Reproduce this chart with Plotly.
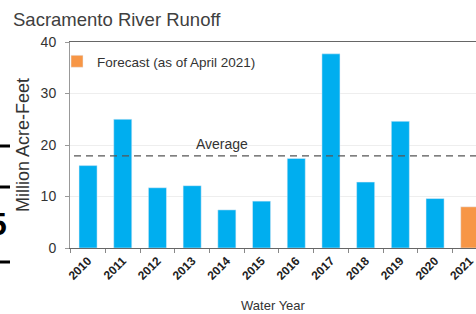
import plotly.graph_objects as go

# ---- data ----
years = ["2010", "2011", "2012", "2013", "2014", "2015", "2016", "2017", "2018", "2019", "2020"]
runoff = [16.0, 25.0, 11.7, 12.1, 7.4, 9.1, 17.4, 37.7, 12.8, 24.6, 9.6]
forecast_year = ["2021"]
forecast_runoff = [8.0]
average = 17.9
y_ticks = [0, 10, 20, 30, 40]

W, H = 476, 314
L, R, T, B = 70, 0, 42, 66
pw, ph = W - L - R, H - T - B

def px_x(p):
    return (p - L) / pw

def px_y(p):
    return (H - B - p) / ph

BLUE = "#00AEEF"
ORANGE = "#F79646"
FONT = "Liberation Sans, Arial, sans-serif"

fig = go.Figure()
fig.add_trace(go.Bar(x=years, y=runoff, marker_color=BLUE, width=0.52,
                     showlegend=False, name="Observed"))
fig.add_trace(go.Bar(x=forecast_year, y=forecast_runoff, marker_color=ORANGE, width=0.52,
                     showlegend=True, name="Forecast (as of April 2021)"))

all_years = years + forecast_year

fig.add_shape(type="line", xref="paper", yref="y", x0=px_x(74), x1=1, y0=average, y1=average,
              line=dict(color="#555555", width=1.3, dash="7px,5px"), layer="above")
fig.add_annotation(x=3.86, y=average, xref="x", yref="y", text="Average", showarrow=False,
                   yshift=12, font=dict(family=FONT, size=14, color="#333333"))

# title
fig.add_annotation(xref="paper", yref="paper", x=px_x(11), y=px_y(19), xanchor="left",
                   yanchor="middle", text="Sacramento River Runoff", showarrow=False,
                   font=dict(family=FONT, size=18.5, color="#404040"))

# edge artifacts from neighbouring panel
for yy in [146, 187, 262]:
    fig.add_shape(type="line", xref="paper", yref="paper", x0=px_x(0), x1=px_x(10),
                  y0=px_y(yy), y1=px_y(yy), line=dict(color="black", width=3))
fig.add_annotation(xref="paper", yref="paper", x=px_x(9), y=px_y(224), xanchor="right",
                   yanchor="middle", text="<b>5</b>", showarrow=False,
                   font=dict(family=FONT, size=32, color="black"))

fig.update_layout(
    width=W, height=H,
    margin=dict(l=L, r=R, t=T, b=B, pad=0),
    paper_bgcolor="white", plot_bgcolor="white",
    barmode="overlay",
    font=dict(family=FONT, color="#333333"),
    legend=dict(x=px_x(57), y=px_y(46), xanchor="left", yanchor="top",
                bgcolor="rgba(0,0,0,0)", font=dict(size=13.5, color="#333333"),
                itemwidth=30),
    xaxis=dict(type="category", categoryorder="array", categoryarray=all_years,
               range=[-0.52, 11.18], tickangle=-45, showline=True, linecolor="#666666",
               linewidth=1.2, mirror=True, ticks="outside", ticklen=4, tickcolor="#888888",
               tickson="boundaries",
               tickfont=dict(family=FONT, size=12, color="#222222", weight="bold"),
               title=dict(text="Water Year", font=dict(size=13, color="#333333"), standoff=19)),
    yaxis=dict(range=[0, 40], tickvals=y_ticks, showgrid=True, gridcolor="#EEEEEE",
               zeroline=False, showline=True, linecolor="#999999", linewidth=1,
               ticks="outside", ticklen=4, tickcolor="#999999",
               tickfont=dict(size=14, color="#333333"), ticklabelstandoff=6,
               title=dict(text="Million Acre-Feet", font=dict(size=18, color="#333333"),
                          standoff=6)),
)

fig.write_html("out.html", config={"displayModeBar": False},
               post_script="document.body.style.margin='0';")
